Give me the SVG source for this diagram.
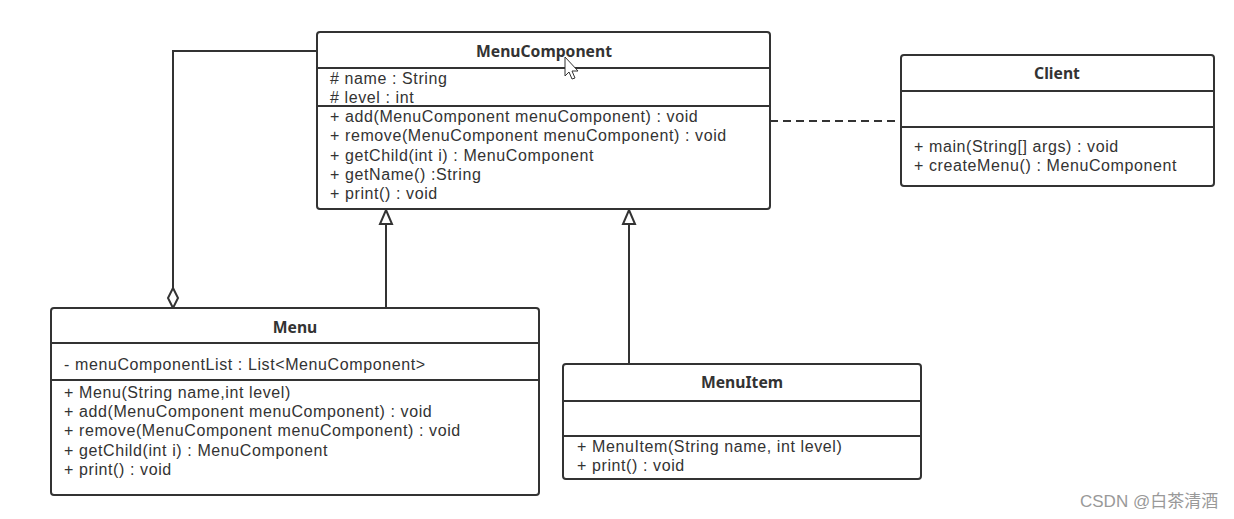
<svg xmlns="http://www.w3.org/2000/svg" width="1234" height="519" viewBox="0 0 1234 519">
<defs>
<style>
.box{fill:#fff;stroke:#333;stroke-width:2}
.div{stroke:#333;stroke-width:2}
.t{font-family:"Liberation Sans","Noto Sans",sans-serif;font-size:16px;letter-spacing:0.6px;fill:#333}
.h{font-family:"Noto Sans","Liberation Sans",sans-serif;font-size:15.7px;font-weight:bold;fill:#333;text-anchor:middle}
.c{stroke:#333;stroke-width:2;fill:none}
.a{fill:#fff;stroke:#333;stroke-width:2}
</style>
</defs>
<rect width="1234" height="519" fill="#fff"/>
<g id="connectors">
<polyline class="c" points="317,51 173,51 173,288"/>
<path class="a" d="M173 288 L178 298 L173 308 L168 298 Z"/>
<line class="c" x1="386" y1="308" x2="386" y2="224"/>
<path class="a" d="M386 210 L392 224 L380 224 Z"/>
<line class="c" x1="629" y1="364" x2="629" y2="224"/>
<path class="a" d="M629 210 L635 224 L623 224 Z"/>
<line class="c" x1="770" y1="121" x2="901" y2="121" stroke-dasharray="8,5"/>
</g>
<g id="MenuComponent">
<rect class="box" x="317" y="32" width="453" height="177" rx="3"/>
<line class="div" x1="317" y1="68" x2="770" y2="68"/>
<line class="div" x1="317" y1="106" x2="770" y2="106"/>
<text class="h" x="544" y="57">MenuComponent</text>
<text class="t" x="330" y="84"># name : String</text>
<text class="t" x="330" y="103"># level : int</text>
<text class="t" x="330" y="122">+ add(MenuComponent menuComponent) : void</text>
<text class="t" x="330" y="141">+ remove(MenuComponent menuComponent) : void</text>
<text class="t" x="330" y="161">+ getChild(int i) : MenuComponent</text>
<text class="t" x="330" y="180">+ getName() :String</text>
<text class="t" x="330" y="199">+ print() : void</text>
</g>
<g id="Client">
<rect class="box" x="901" y="55" width="313" height="131" rx="3"/>
<line class="div" x1="901" y1="91" x2="1214" y2="91"/>
<line class="div" x1="901" y1="127" x2="1214" y2="127"/>
<text class="h" x="1057" y="79">Client</text>
<text class="t" x="914" y="152">+ main(String[] args) : void</text>
<text class="t" x="914" y="171">+ createMenu() : MenuComponent</text>
</g>
<g id="Menu">
<rect class="box" x="51" y="308" width="488" height="187" rx="3"/>
<line class="div" x1="51" y1="343" x2="539" y2="343"/>
<line class="div" x1="51" y1="380" x2="539" y2="380"/>
<text class="h" x="295" y="333">Menu</text>
<text class="t" x="64" y="370">- menuComponentList : List&lt;MenuComponent&gt;</text>
<text class="t" x="64" y="398">+ Menu(String name,int level)</text>
<text class="t" x="64" y="417">+ add(MenuComponent menuComponent) : void</text>
<text class="t" x="64" y="436">+ remove(MenuComponent menuComponent) : void</text>
<text class="t" x="64" y="456">+ getChild(int i) : MenuComponent</text>
<text class="t" x="64" y="475">+ print() : void</text>
</g>
<g id="MenuItem">
<rect class="box" x="563" y="364" width="358" height="115" rx="3"/>
<line class="div" x1="563" y1="401" x2="921" y2="401"/>
<line class="div" x1="563" y1="436" x2="921" y2="436"/>
<text class="h" x="742" y="388">MenuItem</text>
<text class="t" x="577" y="452">+ MenuItem(String name, int level)</text>
<text class="t" x="577" y="471">+ print() : void</text>
</g>
<path d="M565 57 L565 76 L569 72 L572 79 L575 78 L572 71 L578 71 Z" fill="#fff" stroke="#333" stroke-width="1"/>
<text x="1080" y="507" style="font-family:'Liberation Sans','Noto Sans CJK SC',sans-serif;font-size:17px;fill:#999">CSDN @白茶清酒</text>
</svg>
